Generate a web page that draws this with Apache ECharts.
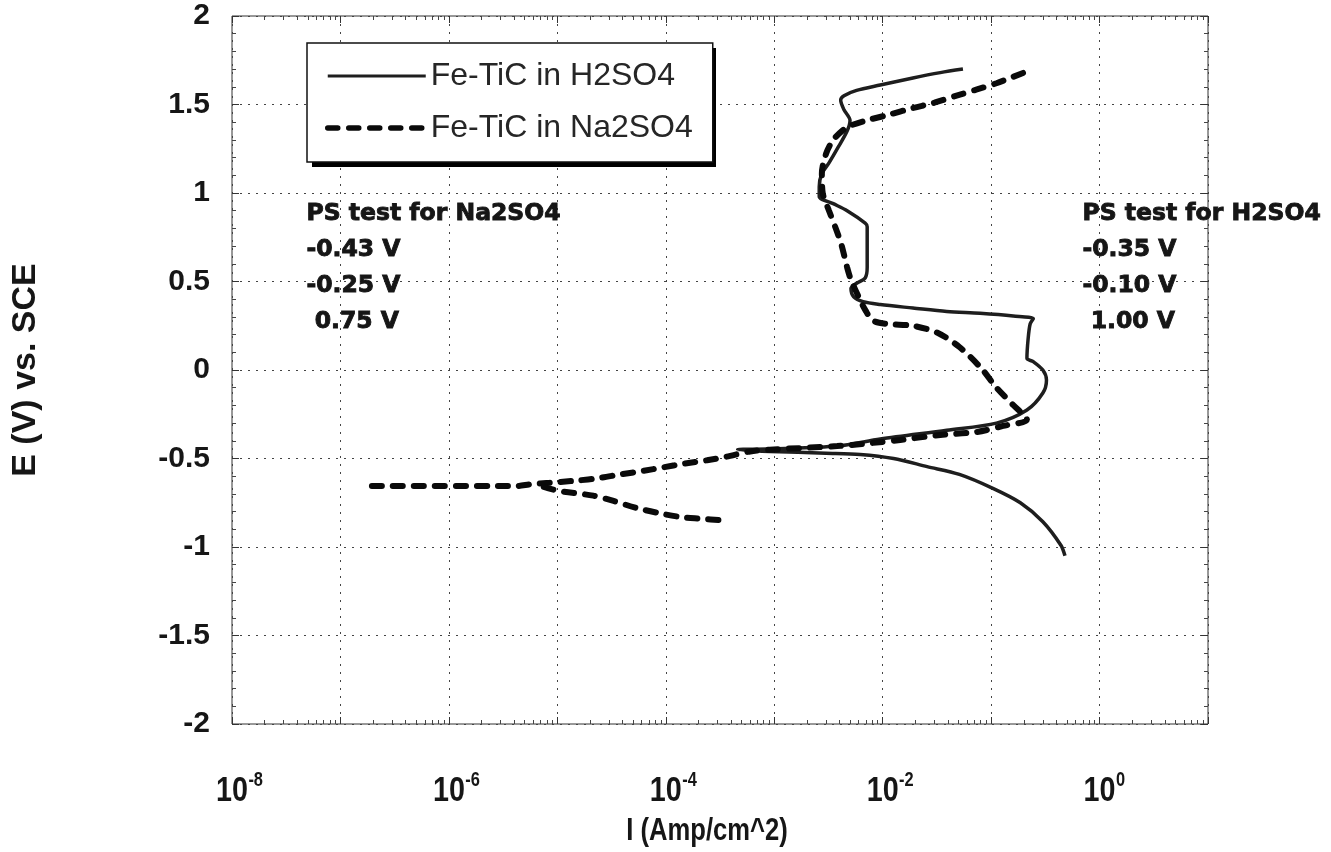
<!DOCTYPE html>
<html>
<head>
<meta charset="utf-8">
<script src="https://cdn.jsdelivr.net/npm/echarts@6/dist/echarts.min.js"></script>
<style>
  html, body { margin: 0; padding: 0; background: #fff; }
  #chart { width: 1331px; height: 852px; }
</style>
</head>
<body>
<div id="chart"></div>
<script>
// Potentiodynamic polarization of Fe-TiC: current density (A/cm^2) against potential (V vs. SCE)

// Fe-TiC in H2SO4, scanned from the cathodic end upward
const h2so4Current = [
  0.48, 0.44, 0.30, 0.186, 0.105, 0.051, 0.0257, 0.0126, 6.2e-3, 3.0e-3, 9.1e-4, 4.6e-4,
  1.0e-3, 3.8e-3, 9.5e-3, 0.039, 0.112, 0.214, 0.30, 0.324, 0.30, 0.245, 0.214, 0.219,
  0.229, 0.245, 0.16, 0.079, 0.039, 0.019, 9.5e-3, 6.6e-3, 5.4e-3, 5.1e-3, 5.75e-3, 6.9e-3,
  7.2e-3, 7.2e-3, 6.9e-3, 4.7e-3, 3.5e-3, 2.6e-3, 2.6e-3, 2.75e-3, 3.2e-3, 3.9e-3, 4.7e-3,
  5.0e-3, 4.4e-3, 4.1e-3, 4.4e-3, 5.75e-3, 9.5e-3, 0.019, 0.034, 0.055
];
const h2so4Potential = [
  -1.05, -0.99, -0.857, -0.75, -0.67, -0.59, -0.546, -0.50, -0.477, -0.47, -0.46, -0.45,
  -0.445, -0.43, -0.39, -0.34, -0.30, -0.226, -0.13, -0.056, 0.0, 0.047, 0.066, 0.17,
  0.26, 0.29, 0.305, 0.32, 0.33, 0.35, 0.37, 0.386, 0.414, 0.46, 0.49, 0.52,
  0.58, 0.81, 0.83, 0.90, 0.94, 0.98, 1.036, 1.11, 1.17, 1.26, 1.35,
  1.41, 1.47, 1.525, 1.55, 1.58, 1.61, 1.65, 1.68, 1.70
];

// Fe-TiC in Na2SO4, anodic branch from the corrosion potential upward
const na2so4AnodicCurrent = [
  1.95e-7, 4.3e-6, 5.6e-6, 8.5e-6, 1.5e-5, 2.45e-5, 3.8e-5, 6.2e-5, 9.5e-5, 1.45e-4,
  2.4e-4, 3.6e-4, 6.0e-4, 9.1e-4, 3.8e-3, 8.7e-3, 0.0145, 0.034, 0.074, 0.129, 0.214,
  0.16, 0.112, 0.081, 0.051, 0.032, 0.019, 0.011, 8.1e-3, 6.9e-3, 6.2e-3, 5.1e-3, 4.7e-3,
  4.2e-3, 3.8e-3, 3.2e-3, 2.8e-3, 2.75e-3, 3.0e-3, 3.5e-3, 4.4e-3, 5.0e-3, 7.1e-3, 0.011,
  0.019, 0.030, 0.048, 0.074, 0.112, 0.20
];
const na2so4AnodicPotential = [
  -0.655, -0.655, -0.646, -0.637, -0.625, -0.61, -0.59, -0.57, -0.55, -0.53,
  -0.51, -0.49, -0.46, -0.45, -0.43, -0.41, -0.395, -0.367, -0.35, -0.316, -0.28,
  -0.198, -0.10, 0.01, 0.13, 0.21, 0.25, 0.26, 0.28, 0.34, 0.395, 0.51, 0.58,
  0.70, 0.78, 0.90, 1.0, 1.11, 1.22, 1.30, 1.36, 1.38, 1.41, 1.44,
  1.48, 1.51, 1.55, 1.585, 1.62, 1.68
];

// Fe-TiC in Na2SO4, cathodic branch
const na2so4CathodicCurrent = [7.5e-6, 1.05e-5, 2.15e-5, 3.3e-5, 5.4e-5, 8.9e-5, 1.35e-4, 2.1e-4, 3.4e-4];
const na2so4CathodicPotential = [-0.66, -0.684, -0.71, -0.74, -0.78, -0.81, -0.83, -0.84, -0.85];

// Decades that carry a "10^n" label on the current axis
const labeledExponents = [-8, -6, -4, -2, 0];

// Pitting-scan potentials noted beside the curves
const noteNa2so4 = ['PS test for Na2SO4', '-0.43 V', '-0.25 V', ' 0.75 V'];
const noteH2so4 = ['PS test for H2SO4', '-0.35 V', '-0.10 V', ' 1.00 V'];

const zip = (xs, ys) => xs.map((x, i) => [x, ys[i]]);

const SANS = "'Liberation Sans', Arial, sans-serif";
const HEAVY = "'DejaVu Sans', 'Liberation Sans', sans-serif";
const INK = '#161616';
const NARROW_SCALE = 0.82;   // Arial Narrow look from Liberation Sans
const gridDots = { color: '#444', width: 1, type: [2, 6] };
const innerTick = { show: true, inside: true, length: 7, lineStyle: { color: '#333' } };
const innerMinor = (n) => ({ show: true, splitNumber: n, length: 4, lineStyle: { color: '#444' } });

const chart = echarts.init(document.getElementById('chart'), null, { renderer: 'canvas' });

function noteTexts(lines, x, y0, step, idPrefix) {
  return lines.map((t, i) => ({
    type: 'text',
    id: idPrefix + i,
    left: x,
    top: y0 + i * step,
    z: 50,
    style: { text: t, fill: INK, stroke: INK, lineWidth: 0.9, font: 'bold 23.5px ' + HEAVY }
  }));
}

const seriesLine = { color: '#1e1e1e', width: 3.5 };
const seriesDash = { color: '#0a0a0a', width: 6, type: [10, 11], cap: 'round' };

const option = {
  backgroundColor: '#fff',
  animation: false,
  grid: { left: 232, top: 16, right: 123, bottom: 128, show: true, borderColor: '#333', borderWidth: 1 },
  legend: {
    orient: 'vertical',
    left: 307,
    top: 43,
    padding: [17, 20, 18, 18],
    itemWidth: 98,
    itemHeight: 14,
    itemGap: 20,
    backgroundColor: '#fff',
    borderColor: '#111',
    borderWidth: 1.5,
    borderRadius: 0,
    itemStyle: { opacity: 0 },
    textStyle: { fontSize: 32, color: '#262626', fontFamily: SANS },
    data: [
      { name: 'Fe-TiC in H2SO4', lineStyle: { width: 3 } },
      { name: 'Fe-TiC in Na2SO4', lineStyle: { width: 5.5 } }
    ],
    z: 10
  },
  xAxis: [
    {
      type: 'log',
      logBase: 10,
      min: 1e-8,
      max: 10,
      position: 'bottom',
      axisLine: { show: false, onZero: false },
      axisTick: innerTick,
      minorTick: innerMinor(9),
      splitLine: { show: true, lineStyle: gridDots },
      axisLabel: { show: false }
    },
    {
      type: 'log',
      logBase: 10,
      min: 1e-8,
      max: 10,
      position: 'top',
      axisLine: { show: false, onZero: false },
      axisTick: innerTick,
      minorTick: innerMinor(9),
      splitLine: { show: false },
      axisLabel: { show: false }
    }
  ],
  yAxis: [
    {
      type: 'value',
      min: -2,
      max: 2,
      interval: 0.5,
      name: 'E (V) vs. SCE',
      nameLocation: 'middle',
      nameGap: 189,
      nameRotate: 90,
      nameTextStyle: { fontSize: 34, fontWeight: 'bold', color: INK, fontFamily: SANS },
      axisLine: { show: false, onZero: false },
      axisTick: innerTick,
      minorTick: innerMinor(5),
      splitLine: { show: true, lineStyle: gridDots },
      axisLabel: { margin: 22, fontSize: 30, fontWeight: 'bold', color: INK, fontFamily: SANS }
    },
    {
      type: 'value',
      min: -2,
      max: 2,
      interval: 0.5,
      position: 'right',
      axisLine: { show: false, onZero: false },
      axisTick: innerTick,
      minorTick: innerMinor(5),
      splitLine: { show: false },
      axisLabel: { show: false }
    }
  ],
  series: [
    {
      name: 'Fe-TiC in H2SO4',
      type: 'line',
      symbol: 'none',
      smooth: 0.3,
      lineStyle: seriesLine,
      itemStyle: { color: '#1e1e1e' },
      data: zip(h2so4Current, h2so4Potential),
      z: 3
    },
    {
      name: 'Fe-TiC in Na2SO4',
      type: 'line',
      symbol: 'none',
      smooth: 0.3,
      lineStyle: seriesDash,
      itemStyle: { color: '#0a0a0a' },
      data: zip(na2so4AnodicCurrent, na2so4AnodicPotential),
      z: 4
    },
    {
      name: 'Fe-TiC in Na2SO4',
      type: 'line',
      symbol: 'none',
      smooth: 0.3,
      lineStyle: seriesDash,
      itemStyle: { color: '#0a0a0a' },
      data: zip(na2so4CathodicCurrent, na2so4CathodicPotential),
      z: 4
    }
  ]
};

chart.setOption(option);

// Drop shadow behind the legend frame (thick lower and right edges)
const legendShadow = {
  type: 'rect',
  id: 'legend-shadow',
  shape: { x: 312, y: 48, width: 404, height: 119 },
  style: { fill: '#000' },
  z: 5
};

// Axis title and decade labels in a condensed bold face, placed through the axis scale
const xTitle = {
  type: 'text',
  id: 'x-title',
  x: 707,
  y: 831,
  scaleX: 0.8,
  z: 50,
  style: { text: 'I (Amp/cm^2)', textAlign: 'center', textVerticalAlign: 'middle', fill: INK, font: 'bold 32px ' + SANS }
};

const decadeLabels = labeledExponents.map((e) => {
  const px = chart.convertToPixel({ xAxisIndex: 0 }, Math.pow(10, e));
  return {
    type: 'group',
    id: 'decade' + e,
    x: px,
    y: 791,
    scaleX: NARROW_SCALE,
    z: 50,
    children: [
      { type: 'text', style: { text: '10', x: 0, y: 0, textAlign: 'center', textVerticalAlign: 'middle', fill: INK, font: 'bold 35px ' + SANS } },
      { type: 'text', style: { text: String(e), x: 20, y: -11, textAlign: 'left', textVerticalAlign: 'middle', fill: INK, font: 'bold 20px ' + SANS } }
    ]
  };
});

chart.setOption({
  graphic: [legendShadow, xTitle].concat(
    decadeLabels,
    noteTexts(noteNa2so4, 306, 201, 36, 'na'),
    noteTexts(noteH2so4, 1082, 201, 36, 'h')
  )
});
</script>
</body>
</html>
